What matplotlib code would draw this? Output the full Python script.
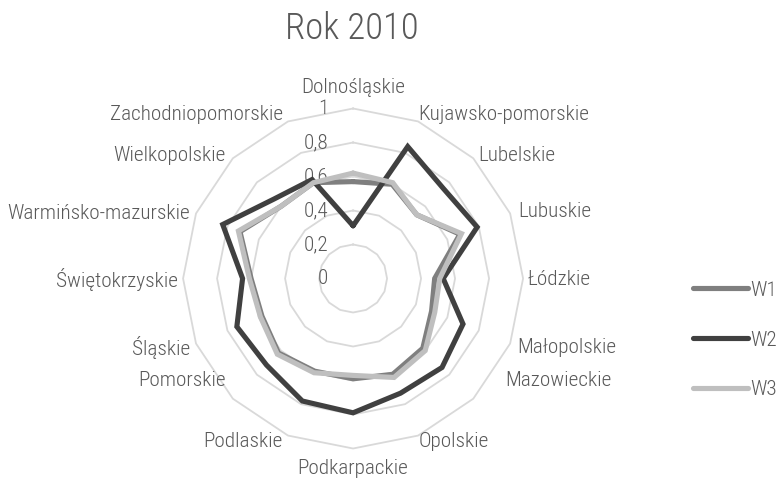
import numpy as np
import matplotlib
matplotlib.use("Agg")
import matplotlib.pyplot as plt

categories = ["Dolnośląskie", "Kujawsko-pomorskie", "Lubelskie", "Lubuskie", "Łódzkie",
              "Małopolskie", "Mazowieckie", "Opolskie", "Podkarpackie", "Podlaskie",
              "Pomorskie", "Śląskie", "Świętokrzyskie", "Warmińsko-mazurskie",
              "Wielkopolskie", "Zachodniopomorskie"]
w1 = [0.57, 0.60, 0.53, 0.68, 0.48, 0.50, 0.58, 0.61, 0.59, 0.59, 0.62, 0.58, 0.60, 0.72, 0.60, 0.61]
w2 = [0.31, 0.84, 0.75, 0.79, 0.53, 0.70, 0.74, 0.73, 0.79, 0.78, 0.72, 0.74, 0.65, 0.83, 0.66, 0.63]
w3 = [0.62, 0.61, 0.53, 0.69, 0.51, 0.52, 0.60, 0.63, 0.57, 0.60, 0.63, 0.59, 0.61, 0.73, 0.60, 0.61]
series_names = ["W1", "W2", "W3"]
r_ticks = [0, 0.2, 0.4, 0.6, 0.8, 1.0]
r_tick_labels = ["0", "0,2", "0,4", "0,6", "0,8", "1"]
title = "Rok 2010"

FONT = ["Roboto Condensed", "Roboto", "DejaVu Sans"]
plt.rcParams["font.family"] = FONT
plt.rcParams["font.weight"] = "light"
TXT = "#595959"
PX = 0.72  # points per pixel at dpi 100
FS = 15.3

fig = plt.figure(figsize=(7.84, 4.82), dpi=100)
ax = fig.add_axes([0.2335, 0.0695, 0.4337, 0.7054], projection="polar")
ax.set_theta_zero_location("N")
ax.set_theta_direction(-1)
ax.set_ylim(0, 1.0)
ax.set_xticks([])
ax.set_yticks([])
ax.grid(False)
ax.spines["polar"].set_visible(False)
ax.patch.set_visible(False)

n = len(categories)
theta = np.arange(n) * 2 * np.pi / n
theta_c = np.append(theta, theta[0])

# polygon grid
for v in r_ticks[1:]:
    ax.plot(theta_c, [v] * (n + 1), color="#d9d9d9", lw=1.3, clip_on=False, zorder=1)

colors = ["#7f7f7f", "#404040", "#bfbfbf"]
for vals, name, c in zip([w1, w2, w3], series_names, colors):
    ax.plot(theta_c, list(vals) + [vals[0]], color=c, lw=3.7, label=name,
            solid_joinstyle="miter", solid_capstyle="round", clip_on=False, zorder=3)

# radial tick labels
for v, lab in zip(r_ticks, r_tick_labels):
    ax.annotate(lab, xy=(0, v), xytext=(-25 * PX, 0), textcoords="offset points",
                ha="right", va="center", fontsize=FS, color=TXT, zorder=2,
                fontweight="light")

# category label offsets (px, right/down positive) and alignment
label_layout = [("center", 0, -20.5), ("left", 0, -6.5), ("left", 5, -3), ("left", 8, -1.5),
                ("left", 5, 1.5), ("left", 7, 3.5), ("left", 32, -18.7), ("left", 0, 5.5),
                ("center", 0, 19.5), ("right", -5, 5.5), ("right", -7, -18.7), ("right", -6, 3.5),
                ("right", -5, 1.5), ("right", -6, 0), ("right", -7, -3), ("right", -5, -6.5)]
for t, lab, (ha, dx, dy) in zip(theta, categories, label_layout):
    ax.annotate(lab, xy=(t, 1.0), xytext=(dx * PX, -dy * PX), textcoords="offset points",
                ha=ha, va="center", fontsize=FS, color=TXT, fontweight="light",
                annotation_clip=False)

fig.text(352 / 784, 1 - 29 / 482, title, ha="center", va="center", fontsize=26.5,
         color=TXT, fontweight="light")

leg = fig.legend(loc="center left", bbox_to_anchor=(693 / 784, 1 - 340 / 482),
                 frameon=False, prop={"size": FS, "weight": "light"},
                 handlelength=2.6, handletextpad=0.1,
                 labelspacing=1.45, borderpad=0, borderaxespad=0, labelcolor=TXT)

fig.savefig("out.png", dpi=100)
